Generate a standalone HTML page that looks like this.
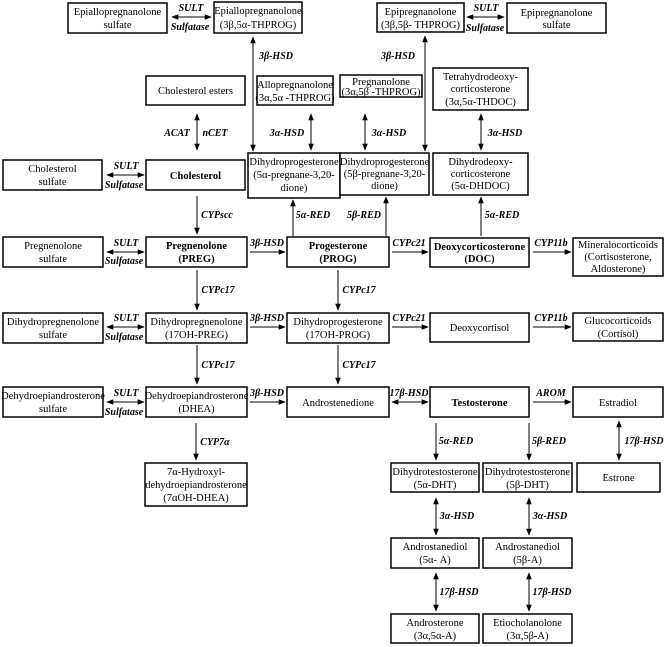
<!DOCTYPE html>
<html><head><meta charset="utf-8"><style>
html,body{margin:0;padding:0;background:#fff;}
svg{display:block;}
text{font-family:"Liberation Serif",serif;font-size:10.5px;fill:#000;text-anchor:middle;}
.b{font-weight:bold;}
.i{font-style:italic;font-weight:bold;font-size:10px;}
rect{fill:#fff;stroke:#000;stroke-width:1.5;}
line{stroke:#000;stroke-width:1;}
</style></head><body>
<svg width="668" height="647" viewBox="0 0 668 647" xmlns="http://www.w3.org/2000/svg">
<defs>
<marker id="a" viewBox="0 0 10 10" refX="9" refY="5" markerWidth="7" markerHeight="7" orient="auto-start-reverse"><path d="M0,1 L10,5 L0,9 z" fill="#000"/></marker>
</defs>

<!-- Boxes -->
<rect x="68" y="3" width="99" height="30"/><text x="117.5" y="15">Epiallopregnanolone</text><text x="117.5" y="28">sulfate</text>
<rect x="214" y="2" width="88" height="31"/><text x="258" y="14">Epiallopregnanolone</text><text x="258" y="28">(3β,5α-THPROG)</text>
<rect x="377" y="3" width="87" height="29"/><text x="420.5" y="15">Epipregnanolone</text><text x="420.5" y="28">(3β,5β- THPROG)</text>
<rect x="507" y="3" width="99" height="30"/><text x="556.5" y="16">Epipregnanolone</text><text x="556.5" y="28">sulfate</text>

<rect x="146" y="76" width="99" height="29"/><text x="195.5" y="94">Cholesterol esters</text>
<rect x="257" y="76" width="76" height="29"/><text x="295" y="88">Allopregnanolone</text><text x="295" y="101">(3α,5α -THPROG)</text>
<rect x="340" y="75" width="82" height="22"/><text x="381" y="85">Pregnanolone</text><text x="381" y="95">(3α,5β -THPROG)</text>
<rect x="433" y="68" width="95" height="42"/><text x="480.5" y="80">Tetrahydrodeoxy-</text><text x="480.5" y="92">corticosterone</text><text x="480.5" y="105">(3α,5α-THDOC)</text>

<rect x="3" y="160" width="99" height="30"/><text x="52.5" y="172">Cholesterol</text><text x="52.5" y="185">sulfate</text>
<rect x="146" y="160" width="99" height="30"/><text class="b" x="195.5" y="179">Cholesterol</text>
<rect x="248" y="153" width="92" height="45"/><text x="294" y="165">Dihydroprogesterone</text><text x="294" y="178">(5α-pregnane-3,20-</text><text x="294" y="191">dione)</text>
<rect x="340" y="153" width="89" height="42"/><text x="384.5" y="165">Dihydroprogesterone</text><text x="384.5" y="177">(5β-pregnane-3,20-</text><text x="384.5" y="189">dione)</text>
<rect x="433" y="153" width="95" height="42"/><text x="480.5" y="165">Dihydrodeoxy-</text><text x="480.5" y="177">corticosterone</text><text x="480.5" y="189">(5α-DHDOC)</text>

<rect x="3" y="237" width="100" height="30"/><text x="53" y="249">Pregnenolone</text><text x="53" y="262">sulfate</text>
<rect x="146" y="237" width="101" height="30"/><text class="b" x="196.5" y="249">Pregnenolone</text><text class="b" x="196.5" y="262">(PREG)</text>
<rect x="287" y="237" width="102" height="30"/><text class="b" x="338" y="249">Progesterone</text><text class="b" x="338" y="262">(PROG)</text>
<rect x="430" y="238" width="99" height="29"/><text class="b" x="479.5" y="250">Deoxycorticosterone</text><text class="b" x="479.5" y="262">(DOC)</text>
<rect x="573" y="238" width="90" height="38"/><text x="618" y="248">Mineralocorticoids</text><text x="618" y="260">(Cortisosterone,</text><text x="618" y="272">Aldosterone)</text>

<rect x="3" y="313" width="100" height="30"/><text x="53" y="325">Dihydropregnenolone</text><text x="53" y="338">sulfate</text>
<rect x="146" y="313" width="101" height="30"/><text x="196.5" y="325">Dihydropregnenolone</text><text x="196.5" y="338">(17OH-PREG)</text>
<rect x="287" y="313" width="102" height="30"/><text x="338" y="325">Dihydroprogesterone</text><text x="338" y="338">(17OH-PROG)</text>
<rect x="430" y="313" width="99" height="29"/><text x="479.5" y="331">Deoxycortisol</text>
<rect x="573" y="313" width="90" height="28"/><text x="618" y="324">Glucocorticoids</text><text x="618" y="337">(Cortisol)</text>

<rect x="3" y="387" width="100" height="30"/><text x="53" y="399">Dehydroepiandrosterone</text><text x="53" y="412">sulfate</text>
<rect x="146" y="387" width="101" height="30"/><text x="196.5" y="399">Dehydroepiandrosterone</text><text x="196.5" y="412">(DHEA)</text>
<rect x="287" y="387" width="102" height="30"/><text x="338" y="406">Androstenedione</text>
<rect x="430" y="387" width="99" height="30"/><text class="b" x="479.5" y="406">Testosterone</text>
<rect x="573" y="387" width="90" height="30"/><text x="618" y="406">Estradiol</text>

<rect x="145" y="463" width="102" height="43"/><text x="196" y="475">7α-Hydroxyl-</text><text x="196" y="488">dehydroepiandrosterone</text><text x="196" y="501">(7αOH-DHEA)</text>

<rect x="391" y="463" width="88" height="29"/><text x="435" y="475">Dihydrotestosterone</text><text x="435" y="488">(5α-DHT)</text>
<rect x="483" y="463" width="89" height="29"/><text x="527.5" y="475">Dihydrotestosterone</text><text x="527.5" y="488">(5β-DHT)</text>
<rect x="577" y="463" width="83" height="29"/><text x="618.5" y="481">Estrone</text>

<rect x="391" y="538" width="88" height="30"/><text x="435" y="550">Androstanediol</text><text x="435" y="563">(5α- A)</text>
<rect x="483" y="538" width="89" height="30"/><text x="527.5" y="550">Androstanediol</text><text x="527.5" y="563">(5β-A)</text>

<rect x="391" y="614" width="88" height="29"/><text x="435" y="626">Androsterone</text><text x="435" y="639">(3α,5α-A)</text>
<rect x="483" y="614" width="89" height="29"/><text x="527.5" y="626">Etiocholanolone</text><text x="527.5" y="639">(3α,5β-A)</text>

<!-- SULT arrows -->
<g>
<line x1="172" y1="17" x2="211" y2="17" marker-start="url(#a)" marker-end="url(#a)"/><text class="i" x="191" y="11">SULT</text><text class="i" x="190" y="30">Sulfatase</text>
<line x1="467" y1="17" x2="504" y2="17" marker-start="url(#a)" marker-end="url(#a)"/><text class="i" x="486" y="11">SULT</text><text class="i" x="485" y="31">Sulfatase</text>
<line x1="107" y1="175" x2="144" y2="175" marker-start="url(#a)" marker-end="url(#a)"/><text class="i" x="126" y="169">SULT</text><text class="i" x="124" y="188">Sulfatase</text>
<line x1="107" y1="252" x2="144" y2="252" marker-start="url(#a)" marker-end="url(#a)"/><text class="i" x="126" y="246">SULT</text><text class="i" x="124" y="264">Sulfatase</text>
<line x1="107" y1="327" x2="144" y2="327" marker-start="url(#a)" marker-end="url(#a)"/><text class="i" x="126" y="321">SULT</text><text class="i" x="124" y="340">Sulfatase</text>
<line x1="107" y1="402" x2="144" y2="402" marker-start="url(#a)" marker-end="url(#a)"/><text class="i" x="126" y="396">SULT</text><text class="i" x="124" y="415">Sulfatase</text>
</g>

<!-- vertical top -->
<line x1="253" y1="37" x2="253" y2="151" marker-start="url(#a)" marker-end="url(#a)"/><text class="i" x="276" y="59">3β-HSD</text>
<line x1="425" y1="36" x2="425" y2="151" marker-start="url(#a)" marker-end="url(#a)"/><text class="i" x="398" y="59">3β-HSD</text>
<line x1="197" y1="114" x2="197" y2="150" marker-start="url(#a)" marker-end="url(#a)"/><text class="i" x="177" y="136">ACAT</text><text class="i" x="215" y="136">nCET</text>
<line x1="311" y1="114" x2="311" y2="150" marker-start="url(#a)" marker-end="url(#a)"/><text class="i" x="287" y="136">3α-HSD</text>
<line x1="365" y1="114" x2="365" y2="150" marker-start="url(#a)" marker-end="url(#a)"/><text class="i" x="389" y="136">3α-HSD</text>
<line x1="481" y1="114" x2="481" y2="150" marker-start="url(#a)" marker-end="url(#a)"/><text class="i" x="505" y="136">3α-HSD</text>

<line x1="197" y1="196" x2="197" y2="234" marker-end="url(#a)"/><text class="i" x="217" y="218">CYPscc</text>
<line x1="293" y1="236" x2="293" y2="200" marker-end="url(#a)"/><text class="i" x="313" y="218">5α-RED</text>
<line x1="386" y1="236" x2="386" y2="197" marker-end="url(#a)"/><text class="i" x="364" y="218">5β-RED</text>
<line x1="481" y1="236" x2="481" y2="197" marker-end="url(#a)"/><text class="i" x="502" y="218">5α-RED</text>

<!-- horizontals -->
<line x1="250" y1="252" x2="285" y2="252" marker-end="url(#a)"/><text class="i" x="267" y="246">3β-HSD</text>
<line x1="392" y1="252" x2="428" y2="252" marker-end="url(#a)"/><text class="i" x="409" y="246">CYPc21</text>
<line x1="533" y1="252" x2="571" y2="252" marker-end="url(#a)"/><text class="i" x="551" y="246">CYP11b</text>
<line x1="250" y1="327" x2="285" y2="327" marker-end="url(#a)"/><text class="i" x="267" y="321">3β-HSD</text>
<line x1="392" y1="327" x2="428" y2="327" marker-end="url(#a)"/><text class="i" x="409" y="321">CYPc21</text>
<line x1="533" y1="327" x2="571" y2="327" marker-end="url(#a)"/><text class="i" x="551" y="321">CYP11b</text>
<line x1="250" y1="402" x2="285" y2="402" marker-end="url(#a)"/><text class="i" x="267" y="396">3β-HSD</text>
<line x1="392" y1="402" x2="428" y2="402" marker-start="url(#a)" marker-end="url(#a)"/><text class="i" x="409" y="396">17β-HSD</text>
<line x1="533" y1="402" x2="571" y2="402" marker-end="url(#a)"/><text class="i" x="551" y="396">AROM</text>

<!-- verticals mid -->
<line x1="197" y1="270" x2="197" y2="310" marker-end="url(#a)"/><text class="i" x="218" y="293">CYPc17</text>
<line x1="338" y1="270" x2="338" y2="310" marker-end="url(#a)"/><text class="i" x="359" y="293">CYPc17</text>
<line x1="197" y1="345" x2="197" y2="384" marker-end="url(#a)"/><text class="i" x="218" y="368">CYPc17</text>
<line x1="338" y1="345" x2="338" y2="384" marker-end="url(#a)"/><text class="i" x="359" y="368">CYPc17</text>
<line x1="196" y1="423" x2="196" y2="460" marker-end="url(#a)"/><text class="i" x="215" y="445">CYP7α</text>

<!-- lower -->
<line x1="436" y1="423" x2="436" y2="460" marker-end="url(#a)"/><text class="i" x="456" y="444">5α-RED</text>
<line x1="529" y1="423" x2="529" y2="460" marker-end="url(#a)"/><text class="i" x="549" y="444">5β-RED</text>
<line x1="619" y1="421" x2="619" y2="460" marker-start="url(#a)" marker-end="url(#a)"/><text class="i" x="644" y="444">17β-HSD</text>
<line x1="436" y1="498" x2="436" y2="535" marker-start="url(#a)" marker-end="url(#a)"/><text class="i" x="457" y="519">3α-HSD</text>
<line x1="529" y1="498" x2="529" y2="535" marker-start="url(#a)" marker-end="url(#a)"/><text class="i" x="550" y="519">3α-HSD</text>
<line x1="436" y1="573" x2="436" y2="611" marker-start="url(#a)" marker-end="url(#a)"/><text class="i" x="459" y="595">17β-HSD</text>
<line x1="529" y1="573" x2="529" y2="611" marker-start="url(#a)" marker-end="url(#a)"/><text class="i" x="552" y="595">17β-HSD</text>
</svg>
</body></html>
